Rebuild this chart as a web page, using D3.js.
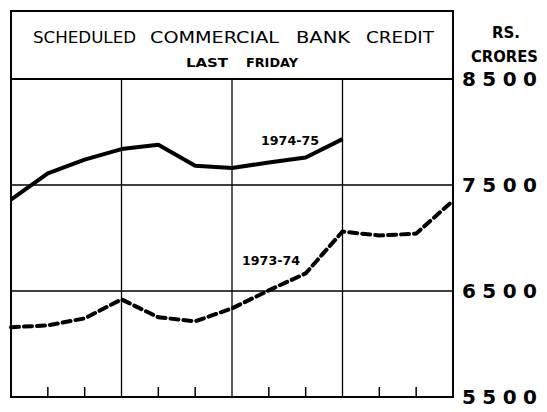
<!DOCTYPE html>
<html>
<head>
<meta charset="utf-8">
<script src="https://cdn.jsdelivr.net/npm/d3@7"></script>
<style>
  body { margin: 0; background: #fff; }
  svg { display: block; }
</style>
</head>
<body>
<div id="chart"></div>
<script>
// scheduled commercial bank credit, last friday of each period (Rs. crores)
const periods = ['0', '1', '2', '3', '4', '5', '6', '7', '8', '9', '10', '11', '12'];
const credit7475 = [7362, 7609, 7740, 7839, 7879, 7682, 7660, 7713, 7760, 7933];
const credit7374 = [6158, 6176, 6242, 6421, 6252, 6214, 6336, 6506, 6666, 7061, 7023, 7042, 7352];
const yTicks = [8500, 7500, 6500, 5500];
const gridValues = [7500, 6500];
const seriesLabels = ['1974-75', '1973-74'];
const titleWords = ['SCHEDULED', 'COMMERCIAL', 'BANK', 'CREDIT'];
const subtitleWords = ['LAST', 'FRIDAY'];

const W = 547, H = 412;
const svg = d3.select('#chart').append('svg')
    .attr('width', W)
    .attr('height', H);

// scales
const x = d3.scaleLinear().domain([0, periods.length - 1]).range([11, 453]);
const y = d3.scaleLinear().domain([5500, 8500]).range([397, 79]);

const font = 'DejaVu Sans, sans-serif';

// title box above plot
svg.append('rect')
    .attr('x', 11).attr('y', 11)
    .attr('width', 442).attr('height', 68)
    .attr('fill', 'none')
    .attr('stroke', '#000')
    .attr('stroke-width', 2);

const titleSpans = [[33, 103], [150, 129], [296, 54], [366, 68]];
svg.append('g').selectAll('text')
    .data(titleWords)
    .enter().append('text')
        .attr('x', (d, i) => titleSpans[i][0])
        .attr('y', 43)
        .attr('textLength', (d, i) => titleSpans[i][1])
        .attr('lengthAdjust', 'spacingAndGlyphs')
        .style('font-family', font)
        .style('font-size', '16px')
        .text(d => d);

const subSpans = [[186, 42], [246, 52]];
svg.append('g').selectAll('text')
    .data(subtitleWords)
    .enter().append('text')
        .attr('x', (d, i) => subSpans[i][0])
        .attr('y', 67)
        .attr('textLength', (d, i) => subSpans[i][1])
        .attr('lengthAdjust', 'spacingAndGlyphs')
        .style('font-family', font)
        .style('font-weight', 'bold')
        .style('font-size', '12px')
        .text(d => d);

// unit label on the right
svg.append('text')
    .attr('x', 506).attr('y', 38)
    .attr('text-anchor', 'middle')
    .style('font-family', font)
    .style('font-weight', 'bold')
    .style('font-size', '15px')
    .text('RS.');
svg.append('text')
    .attr('x', 471).attr('y', 62)
    .attr('textLength', 67)
    .attr('lengthAdjust', 'spacingAndGlyphs')
    .style('font-family', font)
    .style('font-weight', 'bold')
    .style('font-size', '15px')
    .text('CRORES');

// grid lines
const grid = svg.append('g');
grid.selectAll('line.h')
    .data(gridValues)
    .enter().append('line')
        .attr('x1', x(0)).attr('x2', x(12))
        .attr('y1', d => y(d)).attr('y2', d => y(d))
        .attr('stroke', '#000')
        .attr('stroke-width', 1.5);
grid.selectAll('line.v')
    .data([3, 6, 9])
    .enter().append('line')
        .attr('x1', d => x(d)).attr('x2', d => x(d))
        .attr('y1', y(8500)).attr('y2', y(5500))
        .attr('stroke', '#000')
        .attr('stroke-width', 1.3);

// small ticks rising from the bottom edge
grid.selectAll('line.t')
    .data(d3.range(1, 12).filter(i => i % 3 !== 0))
    .enter().append('line')
        .attr('x1', d => x(d)).attr('x2', d => x(d))
        .attr('y1', y(5500)).attr('y2', y(5500) - 10)
        .attr('stroke', '#000')
        .attr('stroke-width', 1.5);

// plot frame (left, bottom, right)
svg.append('path')
    .attr('d', `M${x(0)},${y(8500)}V${y(5500)}H${x(12)}V${y(8500)}`)
    .attr('fill', 'none')
    .attr('stroke', '#000')
    .attr('stroke-width', 2);

// right axis labels
const yAxis = svg.append('g')
    .attr('transform', `translate(${x(12)},0)`)
    .call(d3.axisRight(y).tickValues(yTicks).tickSize(0).tickPadding(9).tickFormat(d3.format('d')));
yAxis.select('.domain').remove();
yAxis.selectAll('text')
    .attr('textLength', 75)
    .attr('lengthAdjust', 'spacing')
    .style('font-family', font)
    .style('font-weight', 'bold')
    .style('font-size', '20px')
    .attr('fill', '#000');

// lines
const line = d3.line()
    .x((d, i) => x(i))
    .y(d => y(d));

svg.append('path')
    .datum(credit7475)
    .attr('d', line)
    .attr('fill', 'none')
    .attr('stroke', '#000')
    .attr('stroke-width', 4)
    .attr('stroke-linejoin', 'round');

svg.append('path')
    .datum(credit7374)
    .attr('d', line)
    .attr('fill', 'none')
    .attr('stroke', '#000')
    .attr('stroke-width', 4)
    .attr('stroke-dasharray', '8,5')
    .attr('stroke-linecap', 'round');

// series labels
svg.append('text')
    .attr('x', 261).attr('y', 145)
    .attr('textLength', 58)
    .attr('lengthAdjust', 'spacingAndGlyphs')
    .style('font-family', font)
    .style('font-weight', 'bold')
    .style('font-size', '12.5px')
    .text(seriesLabels[0]);
svg.append('text')
    .attr('x', 242).attr('y', 265)
    .attr('textLength', 58)
    .attr('lengthAdjust', 'spacingAndGlyphs')
    .style('font-family', font)
    .style('font-weight', 'bold')
    .style('font-size', '12.5px')
    .text(seriesLabels[1]);
</script>
</body>
</html>
